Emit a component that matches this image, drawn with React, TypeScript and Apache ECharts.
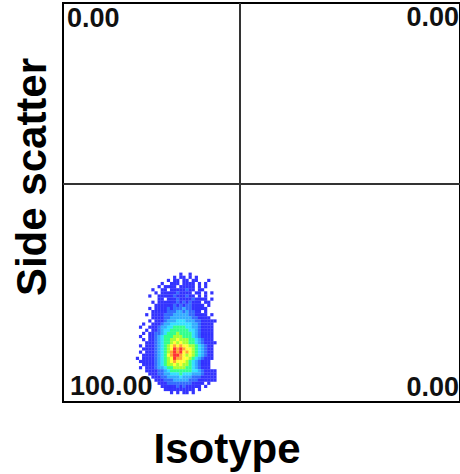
import React, { useEffect, useRef } from "react";
import * as echarts from "echarts";

// Flow cytometry channels (0..1024) on both axes
const axisMax = 1024;
// Quadrant gate positions (channels)
const quadrantX = 457;
const quadrantY = 559;
// Quadrant percentages: upper-left, upper-right, lower-left, lower-right
const quadrantLabels = ["0.00", "0.00", "100.00", "0.00"];
const xTitle = "Isotype";
const yTitle = "Side scatter";

// Density grid of events (binned).
// Each row is one bin of side scatter (top row = highest), each char one bin of isotype.
// '.' = no events, 1..9 = increasing event density.
const binXStart = 192;
const binYTop = 336;
const binStep = 8;
const densityRows = [
  "..........................",
  "..............1..1........",
  "............1.11.1.1......",
  "..........1.11.11.11...1..",
  "........1..111.1111.1.1...",
  ".......1.1111.11111.1.1...",
  ".....1..11.11111211.11....",
  "......1.1111121111.11.1.1.",
  "....1..111112111211.1.1...",
  ".......11.1112111121111.1.",
  ".....1.11111121212111.11..",
  "......1111112121221111.1..",
  "....1.11112122232211111...",
  ".....1111122233232211.1...",
  "...1.111122233333221111.1.",
  ".....1111223333333221111..",
  "....1.11123334443332211111",
  "..1..11123344444443321111.",
  ".1..111233445555443321111.",
  "...1.11234455555544321111.",
  "..1.112234555655554321111.",
  ".1..112345556665554321111.",
  "..1.112345566766655432111.",
  "...11123455676766554321111",
  ".1.1112345678787766543211.",
  "..11112345679898776543211.",
  ".1.1112345689897876543211.",
  "..11112345789987676543211.",
  "1.11112345679887765432111.",
  ".11111234567877765432111..",
  "..1111234566767665432111..",
  ".1.111233455666655432111..",
  "...11112234555555544321111",
  "....1112233444544433321111",
  ".....111223333433322211111",
  "......11122233333222111111",
  ".......111222222221111.1..",
  "........1111121211111.1...",
  ".........1111111111.1.....",
  "...........1.1.11.1.......",
];
const densityColors = [
  "#0000ff",
  "#0048ff",
  "#0098ff",
  "#00d8ff",
  "#00ff70",
  "#90ff00",
  "#ffff00",
  "#ff9000",
  "#ff0000",
];

export default function App() {
  const ref = useRef<HTMLDivElement>(null);
  useEffect(() => {
    const chart = echarts.init(ref.current!, null, { renderer: "svg" });
    const events: number[][] = [];
    densityRows.forEach((row, j) => {
      for (let i = 0; i < row.length; i++) {
        const c = row[i];
        if (c !== ".") {
          events.push([binXStart + i * binStep, binYTop - j * binStep, Number(c)]);
        }
      }
    });
    const labelFont = 'bold 27px "Liberation Sans", Arial, sans-serif';
    const titleFont = 'bold 42px "Liberation Sans", Arial, sans-serif';
    chart.setOption({
      animation: false,
      backgroundColor: "#ffffff",
      grid: {
        left: 63,
        top: 3,
        width: 399,
        height: 399,
        show: true,
        borderColor: "#000",
        borderWidth: 2,
        backgroundColor: "#fff",
      },
      xAxis: { type: "value", min: 0, max: axisMax, show: false },
      yAxis: { type: "value", min: 0, max: axisMax, show: false },
      visualMap: {
        show: false,
        type: "continuous",
        dimension: 2,
        min: 1,
        max: 9,
        inRange: { color: densityColors },
      },
      series: [
        {
          type: "scatter",
          data: events,
          symbol: "rect",
          symbolSize: 3.2,
          silent: true,
          markLine: {
            silent: true,
            symbol: "none",
            label: { show: false },
            lineStyle: { color: "#333", width: 2, type: "solid" },
            data: [{ xAxis: quadrantX }, { yAxis: quadrantY }],
          },
        },
      ],
      graphic: [
        {
          type: "text",
          x: 67,
          y: 18,
          style: { text: quadrantLabels[0], font: labelFont, fill: "#111", textAlign: "left", textVerticalAlign: "middle" },
        },
        {
          type: "text",
          x: 459,
          y: 17,
          style: { text: quadrantLabels[1], font: labelFont, fill: "#111", textAlign: "right", textVerticalAlign: "middle" },
        },
        {
          type: "text",
          x: 70,
          y: 386,
          style: { text: quadrantLabels[2], font: labelFont, fill: "#111", textAlign: "left", textVerticalAlign: "middle" },
        },
        {
          type: "text",
          x: 459,
          y: 387,
          style: { text: quadrantLabels[3], font: labelFont, fill: "#111", textAlign: "right", textVerticalAlign: "middle" },
        },
        {
          type: "text",
          x: 227,
          y: 448,
          style: { text: xTitle, font: titleFont, fill: "#000", textAlign: "center", textVerticalAlign: "middle" },
        },
        {
          type: "text",
          x: 31,
          y: 177,
          rotation: Math.PI / 2,
          style: { text: yTitle, font: titleFont, fill: "#000", textAlign: "center", textVerticalAlign: "middle" },
        },
      ],
    });
    return () => chart.dispose();
  }, []);
  return <div ref={ref} style={{ position: "fixed", left: 0, top: 0, width: 460, height: 474 }} />;
}
